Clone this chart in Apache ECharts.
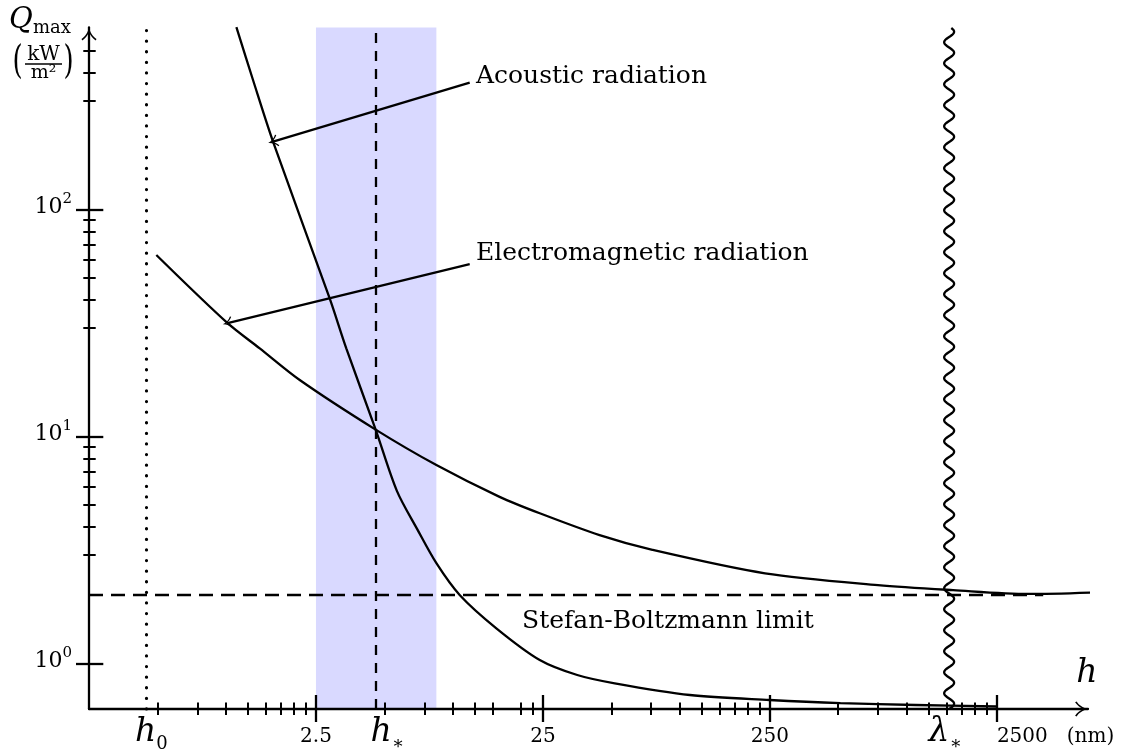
<!DOCTYPE html>
<html>
<head>
<meta charset="utf-8">
<script src="https://cdn.jsdelivr.net/npm/echarts@6/dist/echarts.min.js"></script>
<style>
  html, body { margin: 0; padding: 0; background: #fff; }
  #chart { width: 1127px; height: 751px; }
</style>
</head>
<body>
<div id="chart"></div>
<script>
// h in nm, Q_max in kW/m^2 (log-log plot)
const acousticH = [1.115, 1.32, 1.617, 2.873, 3.40, 4.58, 5.68, 7.01, 8.48, 10.74, 15.58, 24.2, 35.4, 51.8, 111, 249, 511, 1096, 2495]
const acousticQ = [634, 371, 198.6, 40.5, 24.4, 10.7, 5.75, 3.87, 2.76, 2.0, 1.426, 1.034, 0.888, 0.816, 0.725, 0.689, 0.667, 0.655, 0.645]
const emH = [0.495, 1.02, 1.413, 2.12, 4.58, 8.48, 16.1, 24.2, 44.4, 75.9, 238, 748, 1603, 3437, 6445]
const emQ = [62.9, 31.5, 24.4, 17.7, 10.7, 7.47, 5.41, 4.58, 3.67, 3.16, 2.49, 2.21, 2.10, 2.02, 2.05]

// annotation arrows: [text end, tip on curve] as [h, Q]
const acousticArrow = [[11.89, 361], [1.617, 198.6]]
const emArrow = [[11.89, 57.3], [1.02, 31.5]]

const h0 = 0.447
const hStar = 4.61
const lambdaStar = 1540
const bandRange = [2.5, 8.48]
const sbLimit = 2
const sbEnd = 4000

const xRange = [0.25, 6300]
const yRange = [0.629, 632]

const xMajorTicks = [2.5, 25, 250, 2500]
const xMinorTicks = [0.5, 0.75, 1, 1.25, 1.5, 1.75, 2, 2.25,
  5, 7.5, 10, 12.5, 15, 20, 22.5,
  50, 75, 100, 125, 150, 175, 200, 225,
  500, 750, 1000, 1250, 1500, 1750, 2000, 2250]
const yMajorTicks = [1, 10, 100]
const yMinorTicks = [3, 4, 5, 6, 7, 8, 9, 30, 40, 50, 60, 70, 80, 90, 300, 400, 500]

const xLabelValues = [h0, 2.5, hStar, 25, 250, lambdaStar]
const xLabelTexts = ['{h0|h}{sub|0}', '{num|2.5}', '{hs|h}{sub|∗}', '{num|25}', '{num|250}', '{ls|λ}{subr|∗}']
const xEndLabelValues = [2500]
const xEndLabelTexts = ['{num|2500}{nm|(nm)}']
const yLabelTexts = ['{b|10}{s|0}', '{b|10}{s|1}', '{b|10}{s|2}']

const LOG = Math.log10
const xMin = LOG(xRange[0]), xMax = LOG(xRange[1])
const yMin = LOG(yRange[0]), yMax = LOG(yRange[1])
const serif = 'DejaVu Serif'
const ink = '#000'
const lw = 2.3

// LaTeX-ish open arrow tip, pointing up
const tipPath = 'path://M7,0 C7.8,4 10.5,8.5 14,10.6 L13.2,12 C10.5,10 8.2,7.5 7,4.2 C5.8,7.5 3.5,10 0.8,12 L0,10.6 C3.5,8.5 6.2,4 7,0 Z'

const toXY = (hs, qs) => hs.map((h, i) => [LOG(h), LOG(qs[i])])
const nearest = (vals, v) => {
  let best = 0
  vals.forEach((a, i) => {
    if (Math.abs(LOG(a) - v) < Math.abs(LOG(vals[best]) - v)) best = i
  })
  return best
}

const xRich = {
  num: { fontFamily: serif, fontSize: 20, lineHeight: 34, padding: [9, 0, 0, 0], color: ink },
  nm: { fontFamily: serif, fontSize: 20, lineHeight: 34, padding: [9, 0, 0, 19], color: ink },
  h0: { fontFamily: serif, fontStyle: 'italic', fontSize: 33, lineHeight: 34, padding: [0, 0, 0, 10], color: ink },
  hs: { fontFamily: serif, fontStyle: 'italic', fontSize: 33, lineHeight: 34, padding: [0, 0, 0, 22], color: ink },
  ls: { fontFamily: serif, fontStyle: 'italic', fontSize: 33, lineHeight: 34, color: ink },
  sub: { fontFamily: serif, fontSize: 18, lineHeight: 34, padding: [24.4, 0, 0, 0], color: ink },
  subr: { fontFamily: serif, fontSize: 18, lineHeight: 34, padding: [24.4, 8, 0, 0], color: ink },
}
const yRich = {
  b: { fontFamily: serif, fontSize: 22, lineHeight: 30, padding: [0, 0, 4.6, 0], color: ink },
  s: { fontFamily: serif, fontSize: 15, lineHeight: 30, padding: [0, 0, 20.4, 0], color: ink },
}

const tickStyle = (w) => ({ color: ink, width: w })

const baseX = {
  type: 'value', min: xMin, max: xMax, position: 'bottom', z: 5,
  splitLine: { show: false },
  axisLine: { show: false, onZero: false },
  axisLabel: { show: false },
  axisTick: { show: false },
}
const baseY = {
  type: 'value', min: yMin, max: yMax, position: 'left', z: 5,
  splitLine: { show: false },
  axisLine: { show: false, onZero: false },
  axisLabel: { show: false },
  axisTick: { show: false },
}

const chart = echarts.init(document.getElementById('chart'))

chart.setOption({
  animation: false,
  backgroundColor: '#fff',
  textStyle: { fontFamily: serif, color: ink },
  grid: { left: 89, right: 39, top: 27.5, bottom: 42, containLabel: false, outerBoundsMode: 'none' },
  xAxis: [
    {
      ...baseX,
      axisLine: {
        show: true, onZero: false,
        lineStyle: { color: ink, width: lw },
        symbol: ['none', tipPath], symbolSize: [15, 13], symbolOffset: [0, -6.5],
      },
      axisLabel: {
        show: true, margin: 6, hideOverlap: false,
        customValues: xLabelValues.map(LOG),
        formatter: (v) => xLabelTexts[nearest(xLabelValues, v)],
        rich: xRich,
      },
    },
    // major ticks cross the axis; the last label hangs to the right of its tick
    {
      ...baseX, offset: -14,
      axisTick: { show: true, customValues: xMajorTicks.map(LOG), length: 27, lineStyle: tickStyle(lw) },
      axisLabel: {
        show: true, margin: 20, align: 'left', hideOverlap: false,
        customValues: xEndLabelValues.map(LOG),
        formatter: (v) => xEndLabelTexts[nearest(xEndLabelValues, v)],
        rich: xRich,
      },
    },
    {
      ...baseX, offset: -6.5,
      axisTick: { show: true, customValues: xMinorTicks.map(LOG), length: 12.5, lineStyle: tickStyle(2) },
    },
  ],
  yAxis: [
    {
      ...baseY,
      axisLine: {
        show: true, onZero: false,
        lineStyle: { color: ink, width: lw },
        symbol: ['none', tipPath], symbolSize: [15, 13], symbolOffset: [0, -6.5],
      },
      axisLabel: {
        show: true, margin: 17, hideOverlap: false,
        customValues: yMajorTicks.map(LOG),
        formatter: (v) => yLabelTexts[nearest(yMajorTicks, v)],
        rich: yRich,
      },
    },
    {
      ...baseY, offset: -14.3,
      axisTick: { show: true, customValues: yMajorTicks.map(LOG), length: 27.3, lineStyle: tickStyle(lw) },
    },
    {
      ...baseY, offset: -6.7,
      axisTick: { show: true, customValues: yMinorTicks.map(LOG), length: 12.4, lineStyle: tickStyle(2) },
    },
  ],
  series: [
    {
      name: 'Acoustic radiation',
      type: 'line',
      data: toXY(acousticH, acousticQ),
      smooth: 0.3,
      symbol: 'none',
      lineStyle: { color: ink, width: lw },
      z: 3,
      markArea: {
        silent: true,
        itemStyle: { color: '#d9d9ff' },
        data: [[{ xAxis: LOG(bandRange[0]) }, { xAxis: LOG(bandRange[1]) }]],
      },
      markLine: {
        silent: true,
        symbol: 'none',
        label: { show: false },
        data: [
          { xAxis: LOG(h0), lineStyle: { color: ink, width: 3.2, type: [0.1, 10.5], cap: 'round' } },
          { xAxis: LOG(hStar), lineStyle: { color: ink, width: lw, type: [10, 8] } },
          [
            { coord: [xMin, LOG(sbLimit)], lineStyle: { color: ink, width: lw, type: [14, 8] } },
            { coord: [LOG(sbEnd), LOG(sbLimit)] },
          ],
          [
            { coord: [LOG(acousticArrow[0][0]), LOG(acousticArrow[0][1])], symbol: 'none', lineStyle: { color: ink, width: lw, type: 'solid' } },
            { coord: [LOG(acousticArrow[1][0]), LOG(acousticArrow[1][1])], symbol: tipPath, symbolSize: [12, 10] },
          ],
          [
            { coord: [LOG(emArrow[0][0]), LOG(emArrow[0][1])], symbol: 'none', lineStyle: { color: ink, width: lw, type: 'solid' } },
            { coord: [LOG(emArrow[1][0]), LOG(emArrow[1][1])], symbol: tipPath, symbolSize: [12, 10] },
          ],
        ],
      },
    },
    {
      name: 'Electromagnetic radiation',
      type: 'line',
      data: toXY(emH, emQ),
      smooth: 0.3,
      symbol: 'none',
      lineStyle: { color: ink, width: lw },
      z: 3,
    },
    {
      // wavy marker at lambda*
      type: 'custom',
      silent: true,
      z: 6,
      data: [[LOG(lambdaStar), yMin]],
      renderItem: (params, api) => {
        const top = api.coord([api.value(0), yMax])
        const bot = api.coord([api.value(0), yMin])
        const pts = []
        for (let y = bot[1]; y >= top[1]; y -= 1) {
          pts.push([bot[0] + 5 * Math.sin((bot[1] - y) * 2 * Math.PI / 21), y])
        }
        return { type: 'polyline', shape: { points: pts }, style: { stroke: ink, lineWidth: lw, fill: null } }
      },
    },
  ],
  graphic: [
    { type: 'text', x: 9, y: 20, style: { text: 'Q', font: 'italic 29px "DejaVu Serif"', fill: ink, verticalAlign: 'middle' } },
    { type: 'text', x: 33, y: 28, style: { text: 'max', font: '18px "DejaVu Serif"', fill: ink, verticalAlign: 'middle' } },
    { type: 'text', x: 17.5, y: 63, scaleY: 1.5, style: { text: '(', font: '26px "DejaVu Serif"', fill: ink, align: 'center', verticalAlign: 'middle' } },
    { type: 'text', x: 68.5, y: 63, scaleY: 1.5, style: { text: ')', font: '26px "DejaVu Serif"', fill: ink, align: 'center', verticalAlign: 'middle' } },
    { type: 'text', x: 43.5, y: 54.8, style: { text: 'kW', font: '20px "DejaVu Serif"', fill: ink, align: 'center', verticalAlign: 'middle' } },
    { type: 'line', shape: { x1: 25, y1: 64, x2: 62, y2: 64 }, style: { stroke: ink, lineWidth: 1.4 } },
    { type: 'text', x: 43.5, y: 73.4, style: { text: 'm²', font: '19px "DejaVu Serif"', fill: ink, align: 'center', verticalAlign: 'middle' } },
    { type: 'text', x: 1087, y: 673.6, style: { text: 'h', font: 'italic 33px "DejaVu Serif"', fill: ink, align: 'center', verticalAlign: 'middle' } },
    { type: 'text', x: 476, y: 76.3, style: { text: 'Acoustic radiation', font: '25px "DejaVu Serif"', fill: ink, verticalAlign: 'middle' } },
    { type: 'text', x: 476, y: 253.4, style: { text: 'Electromagnetic radiation', font: '25px "DejaVu Serif"', fill: ink, verticalAlign: 'middle' } },
    { type: 'text', x: 522, y: 621.4, style: { text: 'Stefan-Boltzmann limit', font: '25px "DejaVu Serif"', fill: ink, verticalAlign: 'middle' } },
  ],
})
</script>
</body>
</html>
